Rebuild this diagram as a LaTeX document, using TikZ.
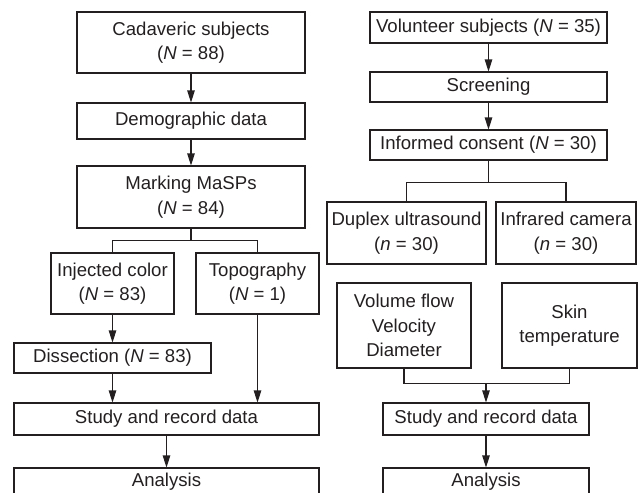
\documentclass[tikz,border=0pt]{standalone}
\usepackage{fontspec}
\setmainfont{Liberation Sans}
\usetikzlibrary{arrows.meta}
\definecolor{ink}{RGB}{35,31,32}
\begin{document}
\begin{tikzpicture}[x=1pt,y=-1pt,
  every node/.style={font=\fontsize{18.6}{24.5}\selectfont, text=ink},
  box/.style={draw=ink, line width=1.1pt, inner sep=0pt, align=center, rectangle},
  conn/.style={draw=ink, line width=1.1pt},
  arr/.style={conn, -{Triangle[length=12pt,width=7.5pt]}}]
\useasboundingbox (0,0) rectangle (638,493);
% left column
\node[box, minimum width=228pt, minimum height=61pt] (cad) at (191,42.5) {Cadaveric subjects\\(\textit{N} = 88)};
\node[box, minimum width=228pt, minimum height=36pt] (demo) at (191,121) {Demographic data};
\node[box, minimum width=228pt, minimum height=62pt] (mark) at (191,197) {Marking MaSPs\\(\textit{N} = 84)};
\node[box, minimum width=123pt, minimum height=61pt] (inj) at (112.5,283.5) {Injected color\\(\textit{N} = 83)};
\node[box, minimum width=123pt, minimum height=61pt] (topo) at (257.5,283.5) {Topography\\(\textit{N} = 1)};
\node[box, minimum width=197pt, minimum height=30pt] (diss) at (112.5,358) {Dissection (\textit{N} = 83)};
\node[box, minimum width=305pt, minimum height=32pt] (study1) at (166.5,419) {Study and record data};
\node[box, minimum width=305pt, minimum height=28pt] (anal1) at (166.5,482) {Analysis};
\draw[arr] (cad) -- (demo);
\draw[arr] (demo) -- (mark);
\draw[conn] (mark.south) -- ++(0,12) coordinate (mb) -| (inj.north);
\draw[conn] (mb) -| (topo.north);
\draw[arr] (inj) -- (diss);
\draw[arr] (diss) -- (diss|-study1.north);
\draw[arr] (topo) -- (topo|-study1.north);
\draw[arr] (study1) -- (anal1);
% right column
\node[box, minimum width=237pt, minimum height=31pt] (vol) at (488.5,27.5) {Volunteer subjects (\textit{N} = 35)};
\node[box, minimum width=237pt, minimum height=30pt] (scr) at (488.5,87) {Screening};
\node[box, minimum width=237pt, minimum height=30pt] (cons) at (488.5,145) {Informed consent (\textit{N} = 30)};
\node[box, minimum width=159pt, minimum height=62pt] (dup) at (406.5,233) {Duplex ultrasound\\(\textit{n} = 30)};
\node[box, minimum width=140pt, minimum height=62pt] (infr) at (566,233) {Infrared camera\\(\textit{n} = 30)};
\node[box, minimum width=134pt, minimum height=85pt] (flow) at (404,325.5) {Volume flow\\Velocity\\Diameter};
\node[box, minimum width=135pt, minimum height=85pt] (skin) at (569.5,325.5) {Skin\\temperature};
\node[box, minimum width=206pt, minimum height=32pt] (study2) at (486,419) {Study and record data};
\node[box, minimum width=206pt, minimum height=28pt] (anal2) at (486,482) {Analysis};
\draw[arr] (vol) -- (scr);
\draw[arr] (scr) -- (cons);
\draw[conn] (cons.south) -- ++(0,22) coordinate (cb) -| (dup.north);
\draw[conn] (cb) -| (infr.north);
\draw[conn] (flow.south) -- ++(0,15) coordinate (fb) -| (skin.south);
\draw[arr] (fb-|study2.north) -- (study2.north);
\draw[arr] (study2) -- (anal2);
\end{tikzpicture}
\end{document}
